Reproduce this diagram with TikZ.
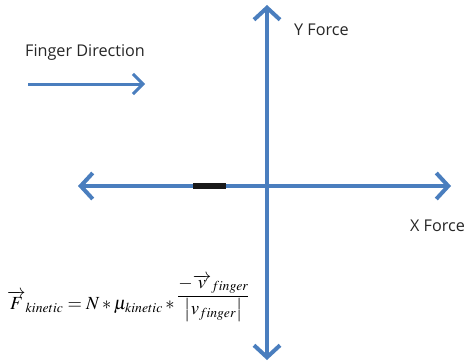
\documentclass[tikz,border=0pt]{standalone}
\usepackage{mathptmx}
\usepackage{fontspec}
\setmainfont{Open Sans}
\usetikzlibrary{arrows.meta}
\definecolor{axisblue}{RGB}{74,126,190}
\tikzset{
  axis/.style={draw=axisblue, line width=4pt, line cap=butt,
    arrows={Straight Barb[length=12pt,width=26pt,line width=4pt]-Straight Barb[length=12pt,width=26pt,line width=4pt]}},
  onearrow/.style={draw=axisblue, line width=3pt,
    -{Straight Barb[length=10pt,width=20pt,line width=3pt]}},
  lbl/.style={inner sep=0pt, font=\fontsize{16.2}{19}\selectfont, text=black!85},
}
\begin{document}
\begin{tikzpicture}[x=1pt,y=-1pt]
\useasboundingbox (0,0) rectangle (466,364);
\coordinate (yt) at (267,5);
\coordinate (yb) at (267,360);
\coordinate (xl) at (78,186);
\coordinate (xr) at (451,186);
\draw[axis] (yb) -- (yt);
\draw[axis] (xl) -- (xr);
\coordinate (bl) at (193,186);
\coordinate (br) at (226,186);
\draw[black!90, line width=6pt] (bl) -- (br);
\coordinate (fl) at (28,84);
\coordinate (fr) at (145,84);
\draw[onearrow] (fl) -- (fr);
\node[lbl, anchor=west] (fd) at (25,53) {Finger Direction};
\node[lbl, anchor=west] (yf) at (294,30) {Y Force};
\node[lbl, anchor=west] (xf) at (410,226) {X Force};
\node[inner sep=0pt, anchor=base west] (eq) at (7,309) {\fontsize{18.5}{22}\selectfont
$\displaystyle\overrightarrow{F}_{kinetic} = N * \mu_{kinetic} * \raisebox{8pt}{$\displaystyle\frac{-\overrightarrow{v}_{finger}}{\left|v_{finger}\right|}$}$};
\end{tikzpicture}
\end{document}
